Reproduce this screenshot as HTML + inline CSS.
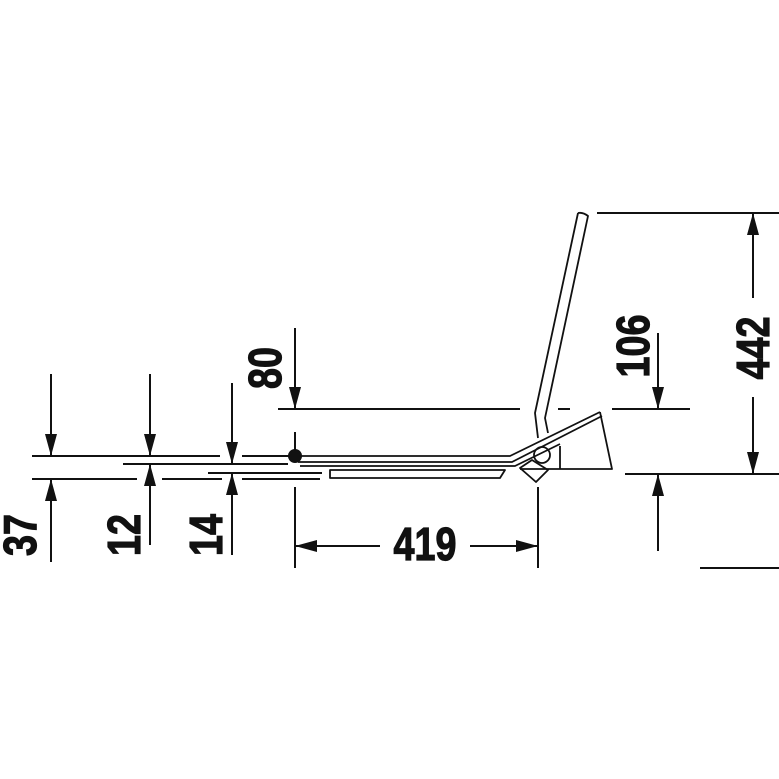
<!DOCTYPE html>
<html><head><style>
html,body{margin:0;padding:0;background:#fff;}
svg{display:block}
text{font-family:"Liberation Sans",sans-serif;font-weight:bold;font-size:46px;fill:#111;stroke:#111;stroke-width:1.2;}
</style></head><body>
<svg width="779" height="779" viewBox="0 0 779 779" xmlns="http://www.w3.org/2000/svg">
<defs>
<marker id="a" viewBox="0 0 10 10" refX="10" refY="5" markerWidth="22" markerHeight="12" markerUnits="userSpaceOnUse" orient="auto" preserveAspectRatio="none"><path d="M0,0L10,5L0,10z" fill="#111"/></marker>
</defs>
<g stroke="#111" stroke-width="2" fill="none">
<line x1="32" y1="456" x2="220" y2="456"/>
<line x1="242" y1="456" x2="290" y2="456"/>
<line x1="123" y1="464" x2="288" y2="464"/>
<line x1="208" y1="473" x2="322" y2="473"/>
<line x1="32" y1="479" x2="137" y2="479"/>
<line x1="162" y1="479" x2="222" y2="479"/>
<line x1="242" y1="479" x2="320" y2="479"/>
<line x1="51" y1="374" x2="51" y2="456" marker-end="url(#a)"/>
<line x1="51" y1="562" x2="51" y2="479" marker-end="url(#a)"/>
<line x1="150" y1="374" x2="150" y2="456" marker-end="url(#a)"/>
<line x1="150" y1="545" x2="150" y2="464" marker-end="url(#a)"/>
<line x1="232" y1="383" x2="232" y2="464" marker-end="url(#a)"/>
<line x1="232" y1="555" x2="232" y2="473" marker-end="url(#a)"/>
<line x1="295" y1="328" x2="295" y2="409" marker-end="url(#a)"/>
<line x1="278" y1="409" x2="520" y2="409"/>
<line x1="558" y1="409" x2="570" y2="409"/>
<line x1="612" y1="409" x2="690" y2="409"/>
<line x1="295" y1="432" x2="295" y2="450"/>
<line x1="295" y1="487" x2="295" y2="568"/>
<line x1="538" y1="487" x2="538" y2="568"/>
<line x1="380" y1="546" x2="295" y2="546" marker-end="url(#a)"/>
<line x1="470" y1="546" x2="538" y2="546" marker-end="url(#a)"/>
<line x1="597" y1="213" x2="779" y2="213"/>
<line x1="625" y1="474" x2="779" y2="474"/>
<line x1="753" y1="298" x2="753" y2="213" marker-end="url(#a)"/>
<line x1="753" y1="397" x2="753" y2="474" marker-end="url(#a)"/>
<line x1="658" y1="333" x2="658" y2="409" marker-end="url(#a)"/>
<line x1="658" y1="551" x2="658" y2="474" marker-end="url(#a)"/>
<line x1="700" y1="568" x2="779" y2="568"/>
</g>
<g stroke="#111" stroke-width="1.8" fill="none" stroke-linejoin="round">
<path d="M578,213 Q583,212 588,216 L545,418 L548,433"/>
<path d="M578,213 L535,413 L538,438"/>
<path d="M295,456 L510,456 L600,412"/>
<path d="M298,462 L512,462 L602,416"/>
<path d="M300,466 L515,466 L560,444"/>
<path d="M600,412 L612,469 L520,469"/>
<path d="M560,446 L560,469"/>
<path d="M330,470 L505,470 L500,478 L330,478 Z"/>
<circle cx="542" cy="455" r="8"/>
<path d="M520,468 L536,482 L548,470 L532,460 Z"/>
</g>
<circle cx="295" cy="456" r="7" fill="#111"/>
<text transform="translate(425 560) scale(0.82 1)" text-anchor="middle">419</text>
<text transform="translate(36 535) rotate(-90) scale(0.82 1)" text-anchor="middle">37</text>
<text transform="translate(140 535) rotate(-90) scale(0.82 1)" text-anchor="middle">12</text>
<text transform="translate(222 535) rotate(-90) scale(0.82 1)" text-anchor="middle">14</text>
<text transform="translate(281 368) rotate(-90) scale(0.82 1)" text-anchor="middle">80</text>
<text transform="translate(649 346) rotate(-90) scale(0.82 1)" text-anchor="middle">106</text>
<text transform="translate(769 348) rotate(-90) scale(0.82 1)" text-anchor="middle">442</text>
</svg>
</body></html>
